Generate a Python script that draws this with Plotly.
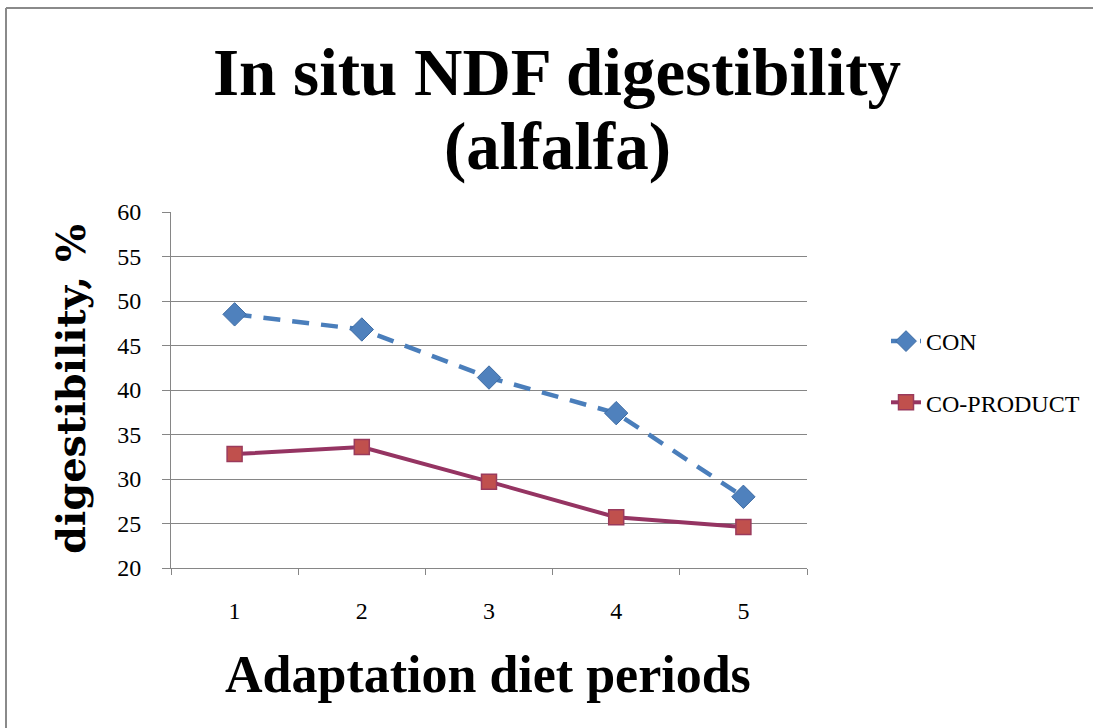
import plotly.graph_objects as go

periods = ["1", "2", "3", "4", "5"]
con = [48.5, 46.8, 41.4, 37.4, 28.0]
coproduct = [32.8, 33.6, 29.7, 25.7, 24.6]
y_ticks = [20, 25, 30, 35, 40, 45, 50, 55, 60]

W, H = 1093, 728
L, R, T, B = 171, 807, 212, 568

def px_x(p):
    return (p - L) / (R - L)

def px_y(p):
    return (B - p) / (B - T)

fig = go.Figure()
fig.add_trace(go.Scatter(
    x=periods, y=con, name="CON", mode="lines+markers",
    legendgroup="a",
    line=dict(color="#4A7EBB", width=4.5, dash="17px,12px"),
    marker=dict(symbol="diamond", size=18, color="#4F81BD",
                line=dict(color="#3D6BA3", width=1)),
))
fig.add_trace(go.Scatter(
    x=periods, y=coproduct, name="CO-PRODUCT", mode="lines+markers",
    legendgroup="b",
    line=dict(color="#953462", width=4),
    marker=dict(symbol="square", size=15, color="#C0504D",
                line=dict(color="#9A3A5C", width=1.5)),
))

serif = "Liberation Serif"
fig.update_layout(
    width=W, height=H,
    margin=dict(l=L, r=W - R, t=T, b=H - B, pad=0, autoexpand=False),
    paper_bgcolor="white", plot_bgcolor="white",
    showlegend=True,
    legend=dict(xref="container", yref="container",
                x=886 / W, y=1 - 319 / H, xanchor="left", yanchor="top",
                font=dict(family=serif, size=24, color="#000000"),
                tracegroupgap=27, traceorder="grouped",
                bgcolor="rgba(0,0,0,0)"),
    xaxis=dict(type="category", range=[-0.5, 4.5], tickson="boundaries",
               ticks="outside", ticklen=6, tickcolor="#868686", showline=True,
               linecolor="#868686", linewidth=1, showgrid=False,
               tickfont=dict(family=serif, size=24, color="#000000"),
               ticklabelstandoff=21, zeroline=False),
    yaxis=dict(range=[20, 60], tickvals=y_ticks, ticks="outside",
               ticklen=8, tickcolor="#868686", showline=True,
               linecolor="#868686", linewidth=1, showgrid=True,
               gridcolor="#868686", gridwidth=1, zeroline=False,
               tickfont=dict(family=serif, size=24, color="#000000"),
               ticklabelstandoff=16),
    annotations=[
        dict(text="<b>In situ NDF digestibility</b>", xref="paper", yref="paper",
             x=px_x(557), y=px_y(72), xanchor="center", yanchor="middle",
             showarrow=False, font=dict(family=serif, size=67, color="#000000")),
        dict(text="<b>(alfalfa)</b>", xref="paper", yref="paper",
             x=px_x(557), y=px_y(146), xanchor="center", yanchor="middle",
             showarrow=False, font=dict(family=serif, size=67, color="#000000")),
        dict(text="<b>digestibility, %</b>", xref="paper", yref="paper",
             x=px_x(70), y=px_y(389), xanchor="center", yanchor="middle",
             textangle=-90, showarrow=False,
             font=dict(family="DejaVu Serif", size=40, color="#000000")),
        dict(text="<b>Adaptation diet periods</b>", xref="paper", yref="paper",
             x=px_x(488), y=px_y(674), xanchor="center", yanchor="middle",
             showarrow=False, font=dict(family=serif, size=52, color="#000000")),
    ],
    shapes=[
        dict(type="line", xref="paper", yref="paper",
             x0=px_x(6), x1=px_x(1100), y0=px_y(8), y1=px_y(8),
             line=dict(color="#8A8A8A", width=2)),
        dict(type="line", xref="paper", yref="paper",
             x0=px_x(6), x1=px_x(6), y0=px_y(8), y1=px_y(740),
             line=dict(color="#8A8A8A", width=2)),
    ],
)

fig.write_html("out.html", config={"displayModeBar": False},
               post_script="document.body.style.margin='0';")
